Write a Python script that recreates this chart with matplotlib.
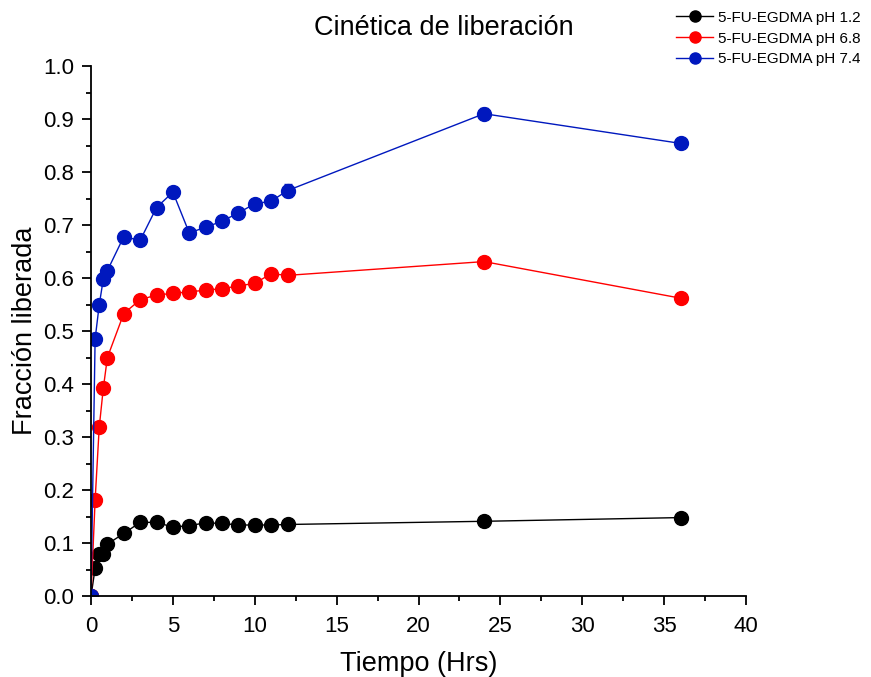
import matplotlib
matplotlib.use("Agg")
import matplotlib.pyplot as plt
from matplotlib.ticker import MultipleLocator

plt.rcParams['font.family'] = ['Liberation Sans', 'DejaVu Sans']

# time points (hours)
tiempo = [0, 0.25, 0.5, 0.75, 1, 2, 3, 4, 5, 6, 7, 8, 9, 10, 11, 12, 24, 36]

# fraction released
ph12 = [0.0, 0.052, 0.080, 0.080, 0.098, 0.118, 0.139, 0.139, 0.130, 0.133,
        0.138, 0.137, 0.134, 0.134, 0.134, 0.135, 0.141, 0.148]
ph68 = [0.0, 0.181, 0.318, 0.392, 0.450, 0.533, 0.559, 0.568, 0.571, 0.574,
        0.577, 0.580, 0.585, 0.590, 0.608, 0.605, 0.631, 0.562]
ph74 = [0.0, 0.485, 0.549, 0.598, 0.614, 0.678, 0.671, 0.733, 0.762, 0.685,
        0.696, 0.707, 0.723, 0.740, 0.745, 0.765, 0.910, 0.854]

# error bars
err12 = [0, 0.003, 0.003, 0.003, 0.003, 0.003, 0.004, 0.003, 0.003, 0.003,
         0.003, 0.003, 0.003, 0.003, 0.003, 0.003, 0.003, 0.003]
err68 = [0, 0.006, 0.004, 0.004, 0.004, 0.004, 0.004, 0.004, 0.004, 0.004,
         0.005, 0.008, 0.006, 0.010, 0.008, 0.005, 0.004, 0.010]
err74 = [0, 0.004, 0.004, 0.004, 0.004, 0.004, 0.004, 0.004, 0.004, 0.004,
         0.004, 0.004, 0.004, 0.004, 0.006, 0.012, 0.010, 0.008]

series = [
    (ph12, err12, '#000000', '5-FU-EGDMA pH 1.2'),
    (ph68, err68, '#FF0000', '5-FU-EGDMA pH 6.8'),
    (ph74, err74, '#0018BE', '5-FU-EGDMA pH 7.4'),
]

fig = plt.figure(figsize=(8.71, 6.77), dpi=100)
ax = fig.add_axes([0.1045, 0.1196, 0.752, 0.7829])

handles = []
for y, e, c, lab in series:
    h = ax.errorbar(tiempo, y, yerr=e, color=c, marker='o', markersize=10,
                    lw=1.0, elinewidth=1.0, capsize=3, label=lab)
    handles.append(h)

ax.set_xlim(0, 40)
ax.set_ylim(0, 1.0)
ax.xaxis.set_major_locator(MultipleLocator(5))
ax.xaxis.set_minor_locator(MultipleLocator(2.5))
ax.yaxis.set_major_locator(MultipleLocator(0.1))
ax.yaxis.set_minor_locator(MultipleLocator(0.05))
ax.yaxis.set_major_formatter(matplotlib.ticker.FormatStrFormatter('%.1f'))
ax.tick_params(which='major', direction='out', length=6.5, width=1.3,
               labelsize=16)
ax.tick_params(axis='x', which='major', pad=8)
ax.tick_params(axis='y', which='major', pad=5.5)
ax.tick_params(which='minor', direction='out', length=3.5, width=1.3)

for s in ['top', 'right']:
    ax.spines[s].set_visible(False)
for s in ['left', 'bottom']:
    ax.spines[s].set_linewidth(1.3)

ax.set_xlabel('Tiempo (Hrs)', fontsize=19.5, labelpad=10)
ax.set_ylabel('Fracción liberada', fontsize=19.5, labelpad=4)
fig.text(0.509, 0.958, 'Cinética de liberación', ha='center', va='center',
         fontsize=19.5)

fig.legend(handles=[h[0] for h in handles], labels=[s[3] for s in series],
           loc='upper right', bbox_to_anchor=(1.0, 1.0), frameon=False,
           fontsize=11, markerscale=0.8, handlelength=2.4,
           borderaxespad=0.3, labelspacing=0.45, handletextpad=0.3)

fig.savefig('out.png', dpi=100)
